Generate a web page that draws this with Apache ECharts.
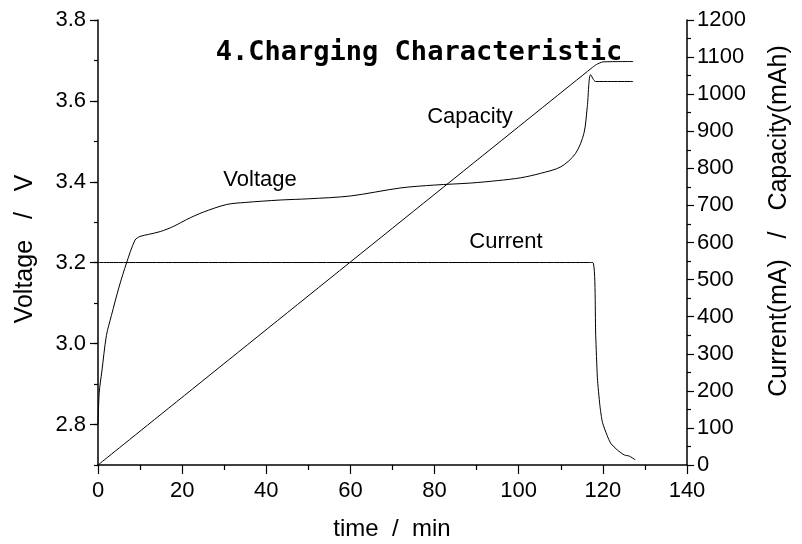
<!DOCTYPE html>
<html><head><meta charset="utf-8">
<script src="https://cdn.jsdelivr.net/npm/echarts@6/dist/echarts.min.js"></script>
<style>html,body{margin:0;padding:0;background:#fff}#c{width:802px;height:544px}</style>
</head><body><div id="c"></div>
<script>
// ---- data ----
const voltTime = [0, 0.3, 0.9, 2, 3.2, 5, 6.8, 8.8, 10, 12, 14.8, 18, 21.1, 25, 30.6, 35, 43.3, 50, 60, 72, 80, 88.6, 95, 100.5, 105.2, 110, 113.5, 115.5, 116.3, 117.1, 118.3, 122, 127.2];
const voltage  = [2.80, 2.88, 2.93, 3.02, 3.07, 3.14, 3.20, 3.256, 3.265, 3.27, 3.277, 3.29, 3.307, 3.325, 3.344, 3.349, 3.355, 3.358, 3.365, 3.385, 3.392, 3.397, 3.403, 3.41, 3.421, 3.437, 3.47, 3.52, 3.586, 3.665, 3.648, 3.648, 3.648];
const capTime  = [0, 117.5, 118.5, 120, 127.2];
const capacity = [0, 1072, 1080, 1087, 1088];
const curTime  = [0, 117.6, 118.3, 118.7, 119.3, 119.9, 121, 121.9, 123.5, 125.1, 126.3, 127.7];
const current  = [546, 546, 350, 235, 160, 115, 80, 58, 40, 27, 24, 14];
const voltTicks = [2.8, 3.0, 3.2, 3.4, 3.6, 3.8];
const titleText = '4.Charging Characteristic';
const xTitle = 'time  /  min';
const yLeftTitle = 'Voltage   /   V';
const yRightTitle = 'Current(mA)   /   Capacity(mAh)';
const annotations = [
  {text: 'Capacity', x: 470, y: 117},
  {text: 'Voltage', x: 260, y: 180},
  {text: 'Current', x: 506, y: 242}
];

const zip = (a, b) => a.map((v, i) => [v, b[i]]);
const F = 'Liberation Sans, Arial, sans-serif';
const lineStyle = {color: '#000', width: 1};
const axisLine = {show: true, lineStyle: {color: '#000', width: 1.5}};

const chart = echarts.init(document.getElementById('c'), null, {renderer: 'canvas'});
chart.setOption({
  backgroundColor: '#fff',
  animation: false,
  grid: {left: 98, right: 115, top: 20, bottom: 79, containLabel: false},
  xAxis: {
    type: 'value', min: 0, max: 140, interval: 20,
    axisLine: axisLine,
    axisTick: {show: true, inside: false, length: 9, lineStyle: {color: '#000', width: 1.2}},
    minorTick: {show: true, splitNumber: 2, length: 5, lineStyle: {color: '#000', width: 1.2}},
    splitLine: {show: false},
    axisLabel: {color: '#000', fontFamily: F, fontSize: 22, margin: 15}
  },
  yAxis: [
    {
      type: 'value', position: 'left', min: 2.7, max: 3.8, interval: 0.1,
      axisLine: axisLine,
      axisTick: {show: true, length: 4, lineStyle: {color: '#000', width: 1.2}},
      axisLabel: {show: false}, splitLine: {show: false}
    },
    {
      type: 'value', position: 'left', min: 2.7, max: 3.8,
      axisLine: {show: false},
      axisTick: {show: true, length: 8, customValues: voltTicks, lineStyle: {color: '#000', width: 1.2}},
      axisLabel: {show: true, customValues: voltTicks, color: '#000', fontFamily: F, fontSize: 22, margin: 12,
                  formatter: v => v.toFixed(1)},
      splitLine: {show: false}
    },
    {
      type: 'value', position: 'right', min: 0, max: 1200, interval: 100,
      axisLine: axisLine,
      axisTick: {show: true, length: 7, lineStyle: {color: '#000', width: 1.2}},
      minorTick: {show: true, splitNumber: 2, length: 4, lineStyle: {color: '#000', width: 1.2}},
      axisLabel: {color: '#000', fontFamily: F, fontSize: 22, margin: 10, formatter: v => String(v)},
      splitLine: {show: false}
    }
  ],
  series: [
    {name: 'Voltage', type: 'line', yAxisIndex: 0, data: zip(voltTime, voltage), showSymbol: false, smooth: 0.3, lineStyle: lineStyle},
    {name: 'Capacity', type: 'line', yAxisIndex: 2, data: zip(capTime, capacity), showSymbol: false, smooth: 0.2, lineStyle: lineStyle},
    {name: 'Current', type: 'line', yAxisIndex: 2, data: zip(curTime, current), showSymbol: false, smooth: 0.2, lineStyle: lineStyle}
  ],
  graphic: [
    {type: 'text', x: 419, y: 53, style: {text: titleText, font: 'bold 27px "DejaVu Sans Mono", monospace', fill: '#000', textAlign: 'center', textVerticalAlign: 'middle'}},
    {type: 'text', x: 392, y: 529, style: {text: xTitle, font: '24px ' + F, fill: '#000', textAlign: 'center', textVerticalAlign: 'middle'}},
    {type: 'text', x: 25, y: 249, rotation: Math.PI / 2, style: {text: yLeftTitle, font: '25px ' + F, fill: '#000', textAlign: 'center', textVerticalAlign: 'middle'}},
    {type: 'text', x: 779, y: 221, rotation: Math.PI / 2, style: {text: yRightTitle, font: '25px ' + F, fill: '#000', textAlign: 'center', textVerticalAlign: 'middle'}}
  ].concat(annotations.map(a => ({type: 'text', x: a.x, y: a.y, style: {text: a.text, font: '22px ' + F, fill: '#000', textAlign: 'center', textVerticalAlign: 'middle'}})))
});
</script>
</body></html>
